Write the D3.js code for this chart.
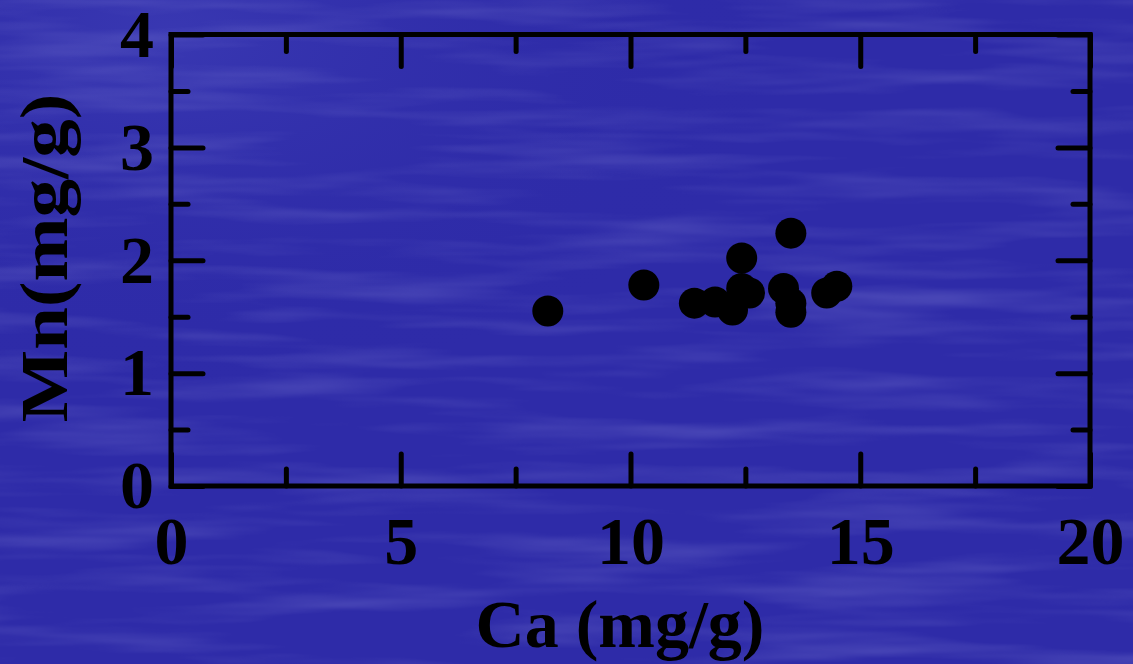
<!DOCTYPE html>
<html>
<head>
<meta charset="utf-8">
<script src="https://cdn.jsdelivr.net/npm/d3@7"></script>
<style>
  html, body { margin: 0; padding: 0; background: #2f2ca9; }
  svg { display: block; }
  text { font-family: "Liberation Serif", "Times New Roman", serif; font-weight: bold; fill: #000; }
</style>
</head>
<body>
<script>
// ---- data ----
const caValues = [8.20, 10.29, 11.39, 11.84, 12.22, 12.42, 12.42, 12.59, 13.49, 13.33, 13.49, 13.49, 14.27, 14.49];
const mnValues = [1.55, 1.78, 1.62, 1.63, 1.56, 2.02, 1.75, 1.71, 2.24, 1.75, 1.62, 1.54, 1.71, 1.77];
const xMajorTicks = [0, 5, 10, 15, 20];
const xMinorTicks = [2.5, 7.5, 12.5, 17.5];
const yMajorTicks = [0, 1, 2, 3, 4];
const yMinorTicks = [0.5, 1.5, 2.5, 3.5];
const xTitle = "Ca (mg/g)";
const yTitle = "Mn(mg/g)";

const W = 1133, H = 664;
const padL = 171, padR = 1090, padT = 34.5, padB = 486;

const svg = d3.select("body").append("svg").attr("width", W).attr("height", H);

// background water texture
const defs = svg.append("defs");
const f = defs.append("filter").attr("id", "water").attr("x", 0).attr("y", 0).attr("width", "100%").attr("height", "100%");
f.append("feTurbulence").attr("type", "fractalNoise").attr("baseFrequency", "0.004 0.045").attr("numOctaves", 3).attr("seed", 7).attr("result", "n");
f.append("feColorMatrix").attr("in", "n").attr("type", "matrix")
  .attr("values", "0 0 0 0 0.45  0 0 0 0 0.45  0 0 0 0 0.85  1.4 0 0 0 -0.62");
const grad = defs.append("radialGradient").attr("id", "glow").attr("cx", "0.15").attr("cy", "0.05").attr("r", "0.9");
grad.append("stop").attr("offset", "0").attr("stop-color", "#4040b8").attr("stop-opacity", 0.6);
grad.append("stop").attr("offset", "0.6").attr("stop-color", "#2a27a6").attr("stop-opacity", 0);
svg.append("rect").attr("width", W).attr("height", H).attr("fill", "#2e2ba8");
svg.append("rect").attr("width", W).attr("height", H).attr("fill", "url(#glow)");
svg.append("rect").attr("width", W).attr("height", H).attr("filter", "url(#water)").attr("opacity", 0.3);

// scales
const x = d3.scaleLinear().domain([0, 20]).range([padL, padR]);
const y = d3.scaleLinear().domain([0, 4]).range([padB, padT]);

const major = 32, minor = 17, lw = 5, fs = 68;

function styleAxis(g) {
  g.select(".domain").remove();
  g.selectAll(".tick line").attr("stroke", "#000").attr("stroke-width", lw).attr("stroke-linecap", "round");
  g.selectAll(".tick text").attr("fill", "#000").style("font-size", fs + "px")
    .style("font-family", '"Liberation Serif", "Times New Roman", serif').style("font-weight", "bold");
}

// bottom
svg.append("g").attr("transform", `translate(0,${padB})`)
  .call(d3.axisBottom(x).tickValues(xMajorTicks).tickSizeInner(-major).tickSizeOuter(0).tickPadding(30).tickFormat(d3.format("d")))
  .call(styleAxis);
svg.append("g").attr("transform", `translate(0,${padB})`)
  .call(d3.axisBottom(x).tickValues(xMinorTicks).tickSizeInner(-minor).tickSizeOuter(0).tickFormat(""))
  .call(styleAxis);
// top
svg.append("g").attr("transform", `translate(0,${padT})`)
  .call(d3.axisTop(x).tickValues(xMajorTicks).tickSizeInner(-major).tickSizeOuter(0).tickFormat(""))
  .call(styleAxis);
svg.append("g").attr("transform", `translate(0,${padT})`)
  .call(d3.axisTop(x).tickValues(xMinorTicks).tickSizeInner(-minor).tickSizeOuter(0).tickFormat(""))
  .call(styleAxis);
// left
const leftAxis = svg.append("g").attr("transform", `translate(${padL},0)`)
  .call(d3.axisLeft(y).tickValues(yMajorTicks).tickSizeInner(-major).tickSizeOuter(0).tickPadding(17).tickFormat(d3.format("d")))
  .call(styleAxis);
svg.append("g").attr("transform", `translate(${padL},0)`)
  .call(d3.axisLeft(y).tickValues(yMinorTicks).tickSizeInner(-minor).tickSizeOuter(0).tickFormat(""))
  .call(styleAxis);
// right
svg.append("g").attr("transform", `translate(${padR},0)`)
  .call(d3.axisRight(y).tickValues(yMajorTicks).tickSizeInner(-major).tickSizeOuter(0).tickFormat(""))
  .call(styleAxis);
svg.append("g").attr("transform", `translate(${padR},0)`)
  .call(d3.axisRight(y).tickValues(yMinorTicks).tickSizeInner(-minor).tickSizeOuter(0).tickFormat(""))
  .call(styleAxis);

// frame
svg.append("rect").attr("x", x(0)).attr("y", y(4)).attr("width", x(20) - x(0)).attr("height", y(0) - y(4))
  .attr("fill", "none").attr("stroke", "#000").attr("stroke-width", lw);

// points
const pts = caValues.map((c, i) => ({ ca: c, mn: mnValues[i] }));
svg.append("g").selectAll("circle").data(pts).join("circle")
  .attr("cx", d => x(d.ca)).attr("cy", d => y(d.mn)).attr("r", 15.5).attr("fill", "#000");

// titles
svg.append("text").attr("x", 620).attr("y", 647).attr("text-anchor", "middle")
  .style("font-size", fs + "px").text(xTitle);
svg.append("text").attr("transform", "translate(67,258) rotate(-90) scale(1.13,1)").attr("text-anchor", "middle")
  .style("font-size", fs + "px").text(yTitle);
</script>
</body>
</html>
